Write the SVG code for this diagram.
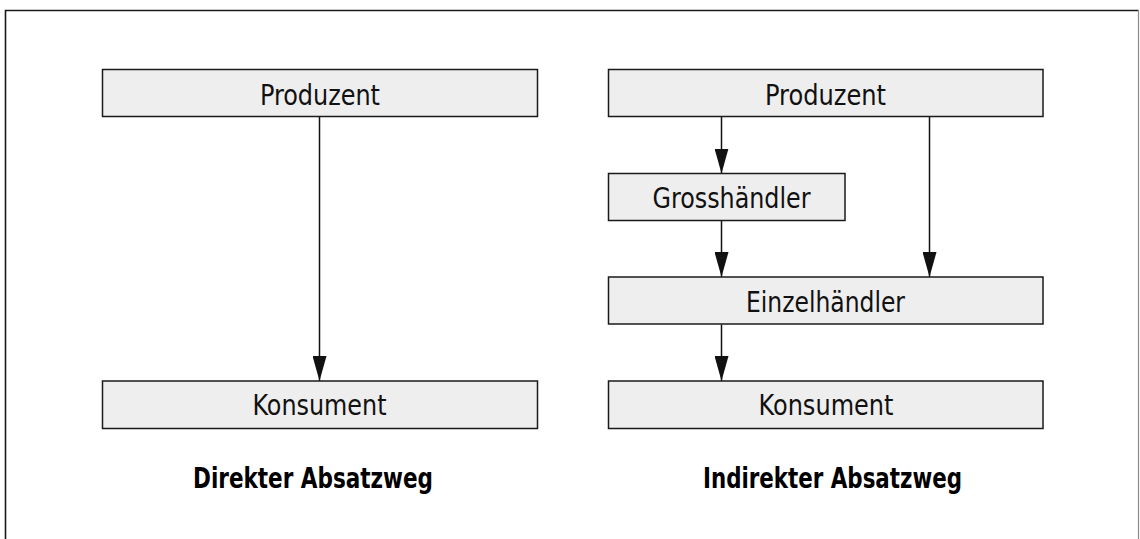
<svg xmlns="http://www.w3.org/2000/svg" width="1140" height="539" viewBox="0 0 1140 539">
  <style>
    .box { fill: #eeeeee; stroke: #1a1a1a; stroke-width: 1.5; }
    .lbl { font-family: "Liberation Sans Narrow", "DejaVu Sans Condensed", "Liberation Sans", sans-serif; font-size: 29px; fill: #111111; }
    .cap { font-family: "Liberation Sans Narrow", "DejaVu Sans Condensed", "Liberation Sans", sans-serif; font-size: 28px; font-weight: bold; fill: #000000; }
    .edge { stroke: #111111; stroke-width: 1.5; fill: none; marker-end: url(#arrow); }
  </style>
  <defs>
    <marker id="arrow" markerUnits="userSpaceOnUse" markerWidth="25" markerHeight="14" refX="25" refY="7" orient="auto">
      <path d="M0,0 L25,7 L0,14 Z" fill="#111111"/>
    </marker>
  </defs>

  <rect width="1140" height="539" fill="#ffffff"/>

  <!-- frame -->
  <path d="M5.5,539 V10.5 H1138.5" fill="none" stroke="#1a1a1a" stroke-width="1.6"/>
  <line x1="1138.5" y1="10" x2="1138.5" y2="539" stroke="#8a8a8a" stroke-width="1.2"/>

  <!-- connectors -->
  <g id="connectors">
    <line class="edge" x1="319.5" y1="117" x2="319.5" y2="381"/>
    <line class="edge" x1="721.5" y1="117" x2="721.5" y2="173.5"/>
    <line class="edge" x1="929.5" y1="117" x2="929.5" y2="277"/>
    <line class="edge" x1="721.5" y1="220.5" x2="721.5" y2="277"/>
    <line class="edge" x1="721.5" y1="324.5" x2="721.5" y2="381"/>
  </g>

  <!-- direct channel -->
  <g id="produzent-direkt">
    <rect class="box" x="102.5" y="69.5" width="435" height="47"/>
    <text class="lbl" x="260" y="105" textLength="120" lengthAdjust="spacingAndGlyphs">Produzent</text>
  </g>
  <g id="konsument-direkt">
    <rect class="box" x="102.5" y="381" width="435" height="47.5"/>
    <text class="lbl" x="252.5" y="415" textLength="134" lengthAdjust="spacingAndGlyphs">Konsument</text>
  </g>

  <!-- indirect channel -->
  <g id="produzent-indirekt">
    <rect class="box" x="608.5" y="69.5" width="434.5" height="47"/>
    <text class="lbl" x="765" y="105" textLength="121" lengthAdjust="spacingAndGlyphs">Produzent</text>
  </g>
  <g id="grosshaendler">
    <rect class="box" x="608.5" y="173.5" width="236.5" height="47"/>
    <text class="lbl" x="652.5" y="208.3" textLength="158" lengthAdjust="spacingAndGlyphs">Grosshändler</text>
  </g>
  <g id="einzelhaendler">
    <rect class="box" x="608.5" y="277" width="434.5" height="47"/>
    <text class="lbl" x="746" y="312.3" textLength="159" lengthAdjust="spacingAndGlyphs">Einzelhändler</text>
  </g>
  <g id="konsument-indirekt">
    <rect class="box" x="608.5" y="381" width="434.5" height="47.5"/>
    <text class="lbl" x="758.5" y="415" textLength="135" lengthAdjust="spacingAndGlyphs">Konsument</text>
  </g>

  <!-- captions -->
  <text class="cap" x="193" y="488" textLength="240" lengthAdjust="spacingAndGlyphs">Direkter Absatzweg</text>
  <text class="cap" x="703" y="488" textLength="259" lengthAdjust="spacingAndGlyphs">Indirekter Absatzweg</text>
</svg>
